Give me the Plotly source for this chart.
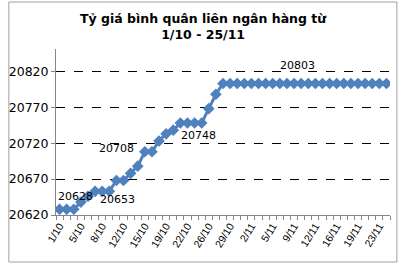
import plotly.graph_objects as go

dates = ["1/10", "3/10", "4/10", "5/10", "6/10", "7/10", "8/10", "10/10", "11/10", "12/10",
         "13/10", "14/10", "15/10", "17/10", "18/10", "19/10", "20/10", "21/10", "22/10", "24/10",
         "25/10", "26/10", "27/10", "28/10", "29/10", "31/10",
         "1/11", "2/11", "3/11", "4/11", "5/11", "7/11", "8/11", "9/11", "10/11", "11/11",
         "12/11", "14/11", "15/11", "16/11", "17/11", "18/11", "19/11", "21/11", "22/11", "23/11", "24/11"]
rates = [20628, 20628, 20628, 20638, 20646, 20653, 20653, 20653, 20668, 20668,
         20678, 20688, 20708, 20708, 20723, 20733, 20738, 20748, 20748, 20748,
         20748, 20768, 20788] + [20803] * 24
y_ticks = [20620, 20670, 20720, 20770, 20820]
title_text = "Tỷ giá bình quân liên ngân hàng từ<br>1/10 - 25/11"
# labelled points: (index of point, xshift px, yshift px)
labels = [(2, 2, 13), (7, 8, -8), (12, -28, 3), (19, 4, -12), (33, 3, 18)]

idx = list(range(len(dates)))

fig = go.Figure()
fig.add_trace(go.Scatter(
    x=idx, y=rates, mode="lines+markers",
    line=dict(color="#4F81BD", width=3),
    marker=dict(symbol="diamond", size=9, color="#4F81BD"),
    hoverinfo="skip", showlegend=False))

for i, xs, ys in labels:
    fig.add_annotation(x=idx[i], y=rates[i], text=str(rates[i]), showarrow=False,
                       xshift=xs, yshift=ys,
                       font=dict(family="DejaVu Sans", size=11, color="black"))

fig.add_annotation(xref="paper", yref="paper", x=(200 - 50) / 340, y=1 + (49 - 27) / 166,
                   xanchor="center", yanchor="middle", showarrow=False,
                   text="<b>" + title_text + "</b>",
                   font=dict(family="DejaVu Sans", size=12.5, color="black"))

fig.update_layout(
    width=399, height=266,
    margin=dict(l=50, r=9, t=49, b=51),
    paper_bgcolor="white", plot_bgcolor="white",
    xaxis=dict(range=[-0.5, len(dates) - 0.5],
               tickmode="array", tickvals=idx[::3], ticktext=dates[::3],
               tickangle=-58, ticks="", showgrid=False, zeroline=False,
               showline=True, linecolor="#868686", linewidth=1,
               tickfont=dict(family="Liberation Sans", size=10.5, color="black"),
               minor=dict(tick0=-0.5, dtick=1, ticks="outside", ticklen=4,
                          tickcolor="#868686", showgrid=False)),
    yaxis=dict(range=[20620, 20851], tickmode="array", tickvals=y_ticks,
               tickformat="d",
               showgrid=True, gridcolor="black", griddash="dash", gridwidth=1,
               zeroline=False, showline=True, linecolor="#868686", linewidth=1,
               ticks="outside", ticklen=4, tickcolor="#868686",
               tickfont=dict(family="DejaVu Sans", size=12.5, color="black")),
)
fig.add_shape(type="rect", xref="paper", yref="paper",
              x0=-48/340, x1=1 + 7/340, y0=-47/166, y1=1 + 47/166,
              line=dict(color="#A0A0A0", width=1), fillcolor="rgba(0,0,0,0)", layer="below")

fig.write_html("out.html")
